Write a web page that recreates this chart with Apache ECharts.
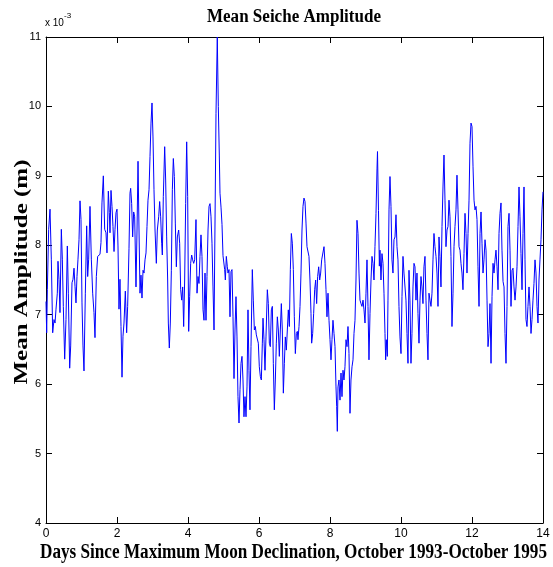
<!DOCTYPE html>
<html>
<head>
<meta charset="utf-8">
<script src="https://cdn.jsdelivr.net/npm/echarts@6/dist/echarts.min.js"></script>
<style>
  html, body { margin: 0; padding: 0; background: #fff; }
  #chart { width: 553px; height: 567px; }
</style>
</head>
<body>
<div id="chart"></div>
<script>
// Time since maximum lunar declination (days)
const days = [
  0.000, 0.019, 0.038, 0.075, 0.113, 0.150, 0.188, 0.225, 0.254, 0.282, 0.319, 0.338, 0.366, 0.394,
  0.432, 0.460, 0.488, 0.526, 0.563, 0.601, 0.629, 0.667, 0.695, 0.732, 0.761, 0.789, 0.817, 0.845,
  0.873, 0.901, 0.930, 0.958, 0.986, 1.014, 1.042, 1.070, 1.108, 1.146, 1.174, 1.202, 1.239, 1.277,
  1.315, 1.352, 1.380, 1.418, 1.455, 1.493, 1.521, 1.549, 1.577, 1.615, 1.653, 1.690, 1.718, 1.756,
  1.784, 1.803, 1.831, 1.859, 1.887, 1.916, 1.944, 1.972, 2.000, 2.028, 2.056, 2.084, 2.113, 2.141,
  2.169, 2.197, 2.235, 2.272, 2.300, 2.338, 2.366,
  2.385, 2.413, 2.441, 2.470, 2.498, 2.535, 2.564, 2.592, 2.620, 2.648, 2.676, 2.704, 2.733, 2.761,
  2.789, 2.817, 2.845, 2.873, 2.902, 2.930, 2.958, 2.986, 3.014, 3.042, 3.071, 3.108, 3.136, 3.174,
  3.202, 3.230, 3.258, 3.277, 3.305, 3.343, 3.371, 3.399, 3.427, 3.446, 3.474, 3.502, 3.531, 3.559,
  3.587, 3.615, 3.643, 3.672, 3.700, 3.737, 3.765, 3.794, 3.822, 3.850, 3.878, 3.906, 3.934, 3.963,
  3.991, 4.019, 4.047, 4.075, 4.103, 4.132, 4.160, 4.188, 4.225, 4.254, 4.282, 4.310, 4.338, 4.366,
  4.394, 4.423, 4.451, 4.479, 4.507, 4.535, 4.564, 4.592, 4.620, 4.648, 4.676, 4.704, 4.733,
  4.789, 4.825, 4.854, 4.882, 4.901, 4.930, 4.958, 4.986,
  5.014, 5.033, 5.052, 5.080, 5.108, 5.127, 5.155, 5.183, 5.211, 5.239, 5.268, 5.296, 5.324, 5.352,
  5.380, 5.408, 5.437, 5.465, 5.493, 5.521, 5.549, 5.577, 5.606, 5.634, 5.662, 5.690, 5.718, 5.746,
  5.775, 5.812, 5.840, 5.869, 5.897, 5.925, 5.953, 5.981, 6.009, 6.038, 6.066, 6.094, 6.113, 6.141,
  6.169, 6.197, 6.235, 6.263, 6.291, 6.319, 6.348, 6.376, 6.404, 6.432, 6.460, 6.488, 6.517, 6.545,
  6.573, 6.601, 6.629, 6.657, 6.686, 6.714, 6.742, 6.770, 6.798, 6.826, 6.855, 6.883, 6.911, 6.939,
  6.967, 6.995, 7.024, 7.052, 7.080,
  7.098, 7.127, 7.155, 7.183, 7.211, 7.239, 7.267, 7.296, 7.324, 7.352, 7.380, 7.408, 7.436, 7.465,
  7.483, 7.512, 7.540, 7.568, 7.596, 7.624, 7.652, 7.681, 7.709, 7.737, 7.765, 7.793, 7.831, 7.859,
  7.887, 7.915, 7.944, 7.972, 8.000, 8.028, 8.056, 8.084, 8.113, 8.141, 8.169, 8.188, 8.206, 8.225,
  8.253, 8.282, 8.310, 8.338, 8.366, 8.394, 8.422, 8.451, 8.479, 8.507, 8.535, 8.563, 8.591, 8.620,
  8.648, 8.676, 8.704, 8.732, 8.760, 8.789, 8.817, 8.845, 8.873, 8.901, 8.930, 8.958, 8.986, 9.014,
  9.042, 9.070, 9.098, 9.127, 9.155, 9.183, 9.211, 9.239, 9.267, 9.296, 9.324, 9.338, 9.366, 9.390,
  9.408, 9.436, 9.464, 9.493, 9.521, 9.549, 9.568, 9.586, 9.615, 9.633, 9.662, 9.690, 9.718, 9.746,
  9.774, 9.802, 9.831, 9.859, 9.887, 9.915, 9.943, 9.971, 10.000, 10.028, 10.056, 10.084, 10.112, 10.140,
  10.169, 10.197, 10.225, 10.253, 10.281, 10.309, 10.338, 10.366, 10.394, 10.422, 10.450, 10.478, 10.507, 10.535,
  10.563, 10.591, 10.619, 10.647, 10.676, 10.704, 10.732, 10.760, 10.788, 10.817, 10.845, 10.873, 10.901, 10.929,
  10.957, 10.986, 11.014, 11.042, 11.070, 11.098, 11.126, 11.155, 11.183, 11.211, 11.239, 11.267, 11.296, 11.324,
  11.352, 11.380, 11.408, 11.436, 11.465, 11.493, 11.521, 11.549, 11.577, 11.606, 11.634, 11.662, 11.690, 11.718,
  11.746, 11.775, 11.803, 11.831,
  11.859, 11.888, 11.916, 11.944, 11.972, 12.000, 12.029, 12.057, 12.085, 12.113, 12.141, 12.169, 12.198, 12.226,
  12.254, 12.282, 12.310, 12.338, 12.367, 12.395, 12.423, 12.451, 12.479, 12.507, 12.536, 12.564, 12.592, 12.620,
  12.648, 12.676, 12.705, 12.733, 12.761, 12.789, 12.817, 12.845, 12.874, 12.902, 12.930, 12.958, 12.986, 13.014,
  13.043, 13.071, 13.099, 13.127, 13.155, 13.183, 13.212, 13.240, 13.268, 13.296, 13.324, 13.352, 13.380, 13.409,
  13.437, 13.465, 13.493, 13.521, 13.549, 13.577, 13.606, 13.634, 13.662, 13.690, 13.718, 13.746, 13.775, 13.803,
  13.831, 13.859, 13.887, 13.915, 13.944, 13.972, 14.000
];

// Mean seiche amplitude, in units of 10^-3 m
const amplitude = [
  7.19, 6.74, 7.36, 8.23, 8.52, 7.80, 6.74, 6.93, 6.88, 7.08, 7.31, 7.77, 7.51, 7.03,
  8.23, 7.80, 7.12, 6.36, 6.93, 7.99, 7.31, 6.23, 6.55, 7.46, 7.51, 7.67, 7.41, 7.17,
  7.55, 7.80, 8.08, 8.64, 8.37, 7.17, 6.55, 6.19, 7.31, 8.28, 7.55, 7.80, 8.56, 7.80,
  7.31, 7.03, 6.67, 7.55, 7.84, 7.85, 7.87, 8.04, 8.61, 9.00, 8.23, 8.18, 7.89, 8.78,
  8.47, 8.18, 8.79, 8.56, 8.27, 7.91, 8.23, 8.47, 8.52, 7.99, 7.08, 7.51, 6.83, 6.10,
  6.69, 6.88, 7.34, 6.74, 7.12, 7.95, 8.75,
  8.82, 8.60, 8.12, 8.48, 8.41, 7.40, 8.22, 9.21, 8.22, 7.31, 7.57, 7.24, 7.64, 7.60,
  7.79, 7.89, 8.27, 8.65, 8.80, 9.28, 9.76, 10.05, 9.56, 8.80, 8.22, 7.74, 8.22, 8.41,
  8.63, 8.41, 8.03, 7.86, 8.70, 9.42, 8.94, 8.12, 7.50, 6.88, 6.52, 6.88, 7.64, 8.80,
  9.25, 8.99, 8.32, 7.69, 8.12, 8.22, 8.03, 7.36, 7.21, 7.40, 6.83, 7.50, 8.60, 9.49,
  8.70, 6.76, 7.26, 7.74, 7.86, 7.79, 7.74, 7.79, 8.37, 7.31, 7.55, 7.45, 7.84, 8.15,
  7.84, 7.07, 6.92, 7.60, 6.92, 7.55, 8.22, 8.56, 8.60, 8.41, 8.03, 7.40, 6.78,
  9.90, 11.00, 10.00, 9.30, 8.75, 8.55, 8.30, 7.85,
  7.86, 7.65, 7.50, 7.84, 7.69, 7.60, 7.65, 6.97, 7.62, 7.65, 6.97, 6.08, 6.78, 7.26,
  6.68, 5.82, 5.44, 5.92, 6.30, 6.40, 6.06, 5.53, 5.82, 5.53, 5.96, 7.07, 6.20, 5.63,
  6.54, 7.65, 7.21, 6.78, 6.83, 6.71, 6.73, 6.59, 6.25, 6.11, 6.06, 6.59, 6.95, 6.64,
  6.20, 6.68, 7.36, 7.16, 6.59, 6.54, 7.07, 7.12, 6.30, 5.63, 6.06, 6.59, 6.97, 6.78,
  6.40, 6.78, 7.16, 6.78, 5.87, 6.30, 6.68, 6.49, 6.78, 7.07, 6.83, 7.65, 8.17, 8.03,
  7.65, 6.97, 6.44, 6.73, 6.76,
  6.64, 6.83, 7.12, 7.60, 8.22, 8.56, 8.68, 8.63, 8.32, 7.98, 8.00, 7.84, 7.50, 7.02,
  6.59, 6.73, 7.02, 7.36, 7.50, 7.16, 7.55, 7.69, 7.50, 7.60, 7.79, 7.81, 7.98, 7.74,
  7.36, 6.97, 7.31, 6.92, 6.64, 6.35, 6.64, 6.92, 6.73, 6.54, 5.96, 5.68, 5.32, 5.96,
  6.06, 5.77, 6.16, 5.82, 6.20, 6.06, 6.25, 6.64, 6.54, 6.83, 6.44, 5.58, 6.06, 6.25,
  6.35, 6.73, 6.92, 7.50, 8.36, 8.17, 7.60, 7.21, 7.16, 7.12, 7.21, 7.07, 6.88, 7.31,
  7.79, 7.12, 6.35, 7.02, 7.50, 7.84, 7.74, 7.50, 7.98, 8.46, 9.10, 9.35, 8.50, 7.70,
  7.93, 7.50, 7.88, 7.74, 7.31, 6.73, 6.35, 6.64, 6.40, 7.21, 8.51, 8.99, 8.56, 7.79,
  7.60, 8.08, 8.12, 8.44, 7.98, 7.79, 7.12, 6.68, 6.44, 7.26, 7.84, 7.60, 7.60, 7.21,
  6.73, 6.30, 7.64, 7.21, 6.30, 6.73, 7.40, 7.74, 7.69, 7.21, 7.60, 7.02, 6.59, 7.21,
  7.55, 7.40, 7.16, 7.69, 7.84, 7.21, 6.73, 6.35, 7.31, 7.21, 7.12, 7.31, 7.79, 8.17,
  7.98, 7.84, 7.60, 7.12, 8.12, 7.84, 7.40, 8.27, 8.84, 9.30, 8.65, 7.98, 8.22, 8.27,
  8.65, 8.41, 7.84, 6.83, 7.31, 7.98, 8.27, 8.51, 9.01, 8.51, 7.98, 7.93, 7.74, 7.60,
  7.36, 7.88, 8.46, 8.17,
  7.60, 8.17, 8.65, 9.47, 9.76, 9.71, 9.13, 8.65, 8.51, 8.56, 8.37, 7.69, 7.12, 8.17,
  8.48, 8.03, 7.60, 7.79, 8.08, 7.93, 7.21, 6.54, 6.73, 7.16, 6.30, 7.26, 7.74, 7.60,
  7.79, 7.93, 7.69, 7.36, 8.17, 8.46, 8.61, 7.93, 7.48, 7.40, 6.73, 6.30, 7.12, 8.27,
  8.46, 7.93, 7.12, 7.64, 7.67, 7.40, 7.21, 7.40, 7.69, 8.27, 8.84, 8.41, 7.88, 7.36,
  8.17, 8.84, 7.79, 6.93, 6.83, 7.12, 7.40, 7.12, 6.73, 6.93, 7.21, 7.45, 7.79, 7.60,
  7.12, 6.88, 7.50, 7.79, 8.08, 8.51, 8.77
];

// Axis ranges and steps
const xRange = [0, 14];
const xStep = 2;
const yRange = [4, 11];
const yStep = 1;
const yExponent = '-3';

const titleText = 'Mean Seiche Amplitude';
const xTitle = 'Days Since Maximum Moon Declination, October 1993-October 1995';
const yTitle = 'Mean Amplitude (m)';

const chart = echarts.init(document.getElementById('chart'), null, { renderer: 'canvas' });

const serif = '"Liberation Serif", "Times New Roman", serif';
const sans = '"Liberation Sans", Arial, sans-serif';

// horizontal scale factor so a string spans a given width
function fitScale(text, font, width) {
  const ctx = document.createElement('canvas').getContext('2d');
  ctx.font = font;
  return width / ctx.measureText(text).width;
}

const titleFont = 'bold 18px ' + serif;
const xTitleFont = 'bold 20px ' + serif;
const yTitleFont = 'bold 18px ' + serif;

const axisCommon = {
  type: 'value',
  axisLine: { show: true, onZero: false, lineStyle: { color: '#000', width: 1 } },
  axisTick: { show: true, inside: true, length: 6, lineStyle: { color: '#000', width: 1 } },
  splitLine: { show: false }
};

const option = {
  animation: false,
  backgroundColor: '#fff',
  grid: { left: 46, right: 10, top: 37, bottom: 44, containLabel: false },
  xAxis: [
    Object.assign({}, axisCommon, {
      position: 'bottom', min: xRange[0], max: xRange[1], interval: xStep,
      axisLabel: { color: '#000', fontFamily: sans, fontSize: 12, margin: 5 }
    }),
    Object.assign({}, axisCommon, {
      position: 'top', min: xRange[0], max: xRange[1], interval: xStep,
      axisLabel: { show: false }
    })
  ],
  yAxis: [
    Object.assign({}, axisCommon, {
      position: 'left', min: yRange[0], max: yRange[1], interval: yStep,
      axisLabel: { color: '#000', fontFamily: sans, fontSize: 11, margin: 5 }
    }),
    Object.assign({}, axisCommon, {
      position: 'right', min: yRange[0], max: yRange[1], interval: yStep,
      axisLabel: { show: false }
    })
  ],
  series: [{
    type: 'line',
    xAxisIndex: 0,
    yAxisIndex: 0,
    data: days.map((d, i) => [d, amplitude[i]]),
    showSymbol: false,
    symbol: 'none',
    lineStyle: { color: '#0000ff', width: 1 },
    clip: true
  }],
  graphic: [
    {
      type: 'text', x: 294, y: 17,
      scaleX: fitScale(titleText, titleFont, 174),
      style: { text: titleText, font: titleFont, fill: '#000', align: 'center', verticalAlign: 'middle' }
    },
    {
      type: 'text', x: 293.5, y: 553,
      scaleX: fitScale(xTitle, xTitleFont, 507),
      style: { text: xTitle, font: xTitleFont, fill: '#000', align: 'center', verticalAlign: 'middle' }
    },
    {
      type: 'text', x: 22, y: 272, rotation: Math.PI / 2,
      scaleX: fitScale(yTitle, yTitleFont, 225),
      style: { text: yTitle, font: yTitleFont, fill: '#000', align: 'center', verticalAlign: 'middle' }
    },
    {
      type: 'text', x: 45, y: 23,
      style: { text: 'x 10', font: '10px ' + sans, fill: '#000', align: 'left', verticalAlign: 'middle' }
    },
    {
      type: 'text', x: 64, y: 16,
      style: { text: yExponent, font: '8px ' + sans, fill: '#000', align: 'left', verticalAlign: 'middle' }
    }
  ]
};

chart.setOption(option);
</script>
</body>
</html>
